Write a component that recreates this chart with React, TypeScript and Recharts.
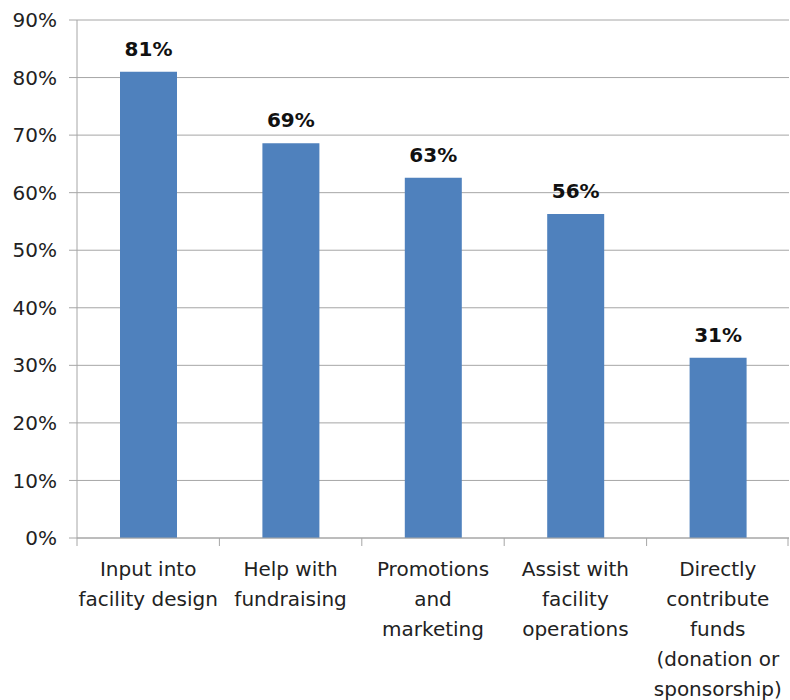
import { Bar, BarChart, CartesianGrid, LabelList, XAxis, YAxis } from "recharts";

const CATEGORIES = [
  "Input into facility design",
  "Help with fundraising",
  "Promotions and marketing",
  "Assist with facility operations",
  "Directly contribute funds (donation or sponsorship)",
];

// how each category label breaks onto lines under the axis
const CATEGORY_LINES = [
  ["Input into", "facility design"],
  ["Help with", "fundraising"],
  ["Promotions", "and", "marketing"],
  ["Assist with", "facility", "operations"],
  ["Directly", "contribute", "funds", "(donation or", "sponsorship)"],
];

const SHARES = [81.0, 68.6, 62.6, 56.3, 31.3];

const Y_TICKS = [0, 10, 20, 30, 40, 50, 60, 70, 80, 90];

const data = CATEGORIES.map((name, i) => ({
  name,
  lines: CATEGORY_LINES[i],
  share: SHARES[i],
}));

const FONT = "'DejaVu Sans', sans-serif";
const GRID = "#a6a6a6";
const TEXT = "#222";

function CategoryTick(props: any) {
  const { x, y, payload, index, visibleTicksCount } = props;
  const half = payload?.offset ?? 0;
  const lines: string[] = data[index]?.lines ?? [payload.value];
  const isLast = index === visibleTicksCount - 1;
  return (
    <g>
      <line x1={x - half} x2={x - half} y1={y - 8} y2={y} stroke={GRID} />
      {isLast && <line x1={x + half - 1} x2={x + half - 1} y1={y - 8} y2={y} stroke={GRID} />}
      <text x={x} y={y + 30} textAnchor="middle" fontSize={20} fontFamily={FONT} fill={TEXT}>
        {lines.map((line, i) => (
          <tspan key={i} x={x} dy={i === 0 ? 0 : 30}>
            {line}
          </tspan>
        ))}
      </text>
    </g>
  );
}

export default function App() {
  return (
    <div style={{ position: "absolute", left: 0, top: 0, width: 790, height: 700, background: "#fff" }}>
      <BarChart
        width={790}
        height={700}
        data={data}
        margin={{ top: 20, right: 1, bottom: 0, left: 0 }}
      >
        <CartesianGrid vertical={false} stroke={GRID} />
        <XAxis
          dataKey="name"
          interval={0}
          height={162}
          axisLine={{ stroke: GRID }}
          tickLine={false}
          tick={<CategoryTick />}
        />
        <YAxis
          width={77}
          domain={[0, 90]}
          ticks={Y_TICKS}
          interval={0}
          tickFormatter={(v: number) => `${v}%`}
          axisLine={{ stroke: GRID }}
          tickLine={{ stroke: GRID }}
          tickSize={8}
          tickMargin={12}
          tick={{ fontSize: 20, fontFamily: FONT, fill: TEXT }}
        />
        <Bar dataKey="share" fill="#4f81bd" barSize={57} isAnimationActive={false}>
          <LabelList
            dataKey="share"
            position="top"
            offset={16}
            formatter={(v: number) => `${Math.round(v)}%`}
            style={{ fontSize: 20, fontWeight: 700, fontFamily: FONT, fill: "#111" }}
          />
        </Bar>
      </BarChart>
    </div>
  );
}
